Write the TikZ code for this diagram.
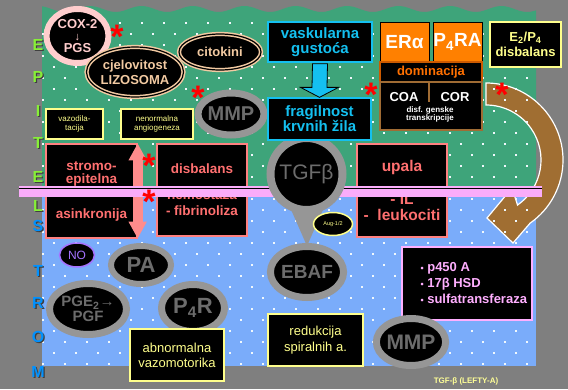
\documentclass[tikz,border=0pt]{standalone}
\usepackage{fontspec}
\setmainfont{Liberation Sans}
\usetikzlibrary{shapes.geometric}
\usetikzlibrary{arrows.meta}
\usetikzlibrary{calc}
\definecolor{slidegray}{RGB}{127,127,127}
\definecolor{epigreen}{RGB}{62,164,122}
\definecolor{stromblue}{RGB}{122,172,250}
\definecolor{dotwhite}{RGB}{240,248,252}
\definecolor{ringgray}{RGB}{150,150,150}
\definecolor{ringtext}{RGB}{108,108,108}
\definecolor{lyscol}{RGB}{242,202,162}
\definecolor{coxpink}{RGB}{255,205,205}
\definecolor{vesselcyan}{RGB}{20,192,240}
\definecolor{receptorange}{RGB}{255,128,0}
\definecolor{domorange}{RGB}{255,112,0}
\definecolor{coabrown}{RGB}{160,108,52}
\definecolor{tailbrown}{RGB}{160,110,50}
\definecolor{paleyellow}{RGB}{255,255,140}
\definecolor{salmonline}{RGB}{255,128,128}
\definecolor{salmontext}{RGB}{255,112,112}
\definecolor{salmonarrow}{RGB}{255,140,140}
\definecolor{bandpink}{RGB}{250,172,250}
\definecolor{enzpink}{RGB}{255,175,255}
\definecolor{nopurple}{RGB}{165,115,255}
\definecolor{limeletter}{RGB}{135,240,55}
\definecolor{blueletter}{RGB}{0,145,255}
\newcommand{\fsz}[1]{\fontsize{#1}{#1}\selectfont}
\tikzset{
  every node/.style={inner sep=0pt, align=center},
  blackbox/.style={draw, fill=black, line width=1.3pt, inner sep=0pt},
  cyanbox/.style={blackbox, draw=vesselcyan, text=vesselcyan, font=\bfseries\fsz{15}},
  yellowbox/.style={blackbox, draw=paleyellow, text=paleyellow, font=\fsz{13}},
  smallbox/.style={blackbox, draw=paleyellow, text=paleyellow, font=\fsz{8}, line width=1.2pt},
  salmonbox/.style={blackbox, draw=salmonline, text=salmontext, font=\bfseries\fsz{13.5}},
  orangebox/.style={blackbox, fill=receptorange, draw=black, text=white, font=\bfseries\fsz{19}, line width=1pt},
  ringoval/.style={ellipse, draw=ringgray, fill=black, text=ringtext, font=\bfseries\fsz{20}, line width=7pt},
  lysoval/.style={ellipse, draw=lyscol, double=black, double distance=1.2pt, line width=1.5pt, fill=black, text=lyscol, font=\bfseries\fsz{13}},
  layerletter/.style={font=\bfseries\fsz{16}},
  ast/.style={text=red, font=\bfseries\fsz{34}, anchor=base},
  dblarrow/.style={salmonarrow, line width=10pt, {Triangle[length=17pt,width=17pt]}-{Triangle[length=17pt,width=17pt]}}
}

\begin{document}
\begin{tikzpicture}[x=1pt, y=-1pt]
\useasboundingbox (0,0) rectangle (568,389);
\fill[slidegray] (0,0) rectangle (568,389);

% epitel and stroma
\fill[epigreen] (42,192) -- (42,14) -- plot[domain=42:536, samples=90, smooth] (\x,{9+3*sin(7*\x)}) -- (536,192) -- cycle;
\fill[stromblue] (42,192) rectangle (536,366);

% brown arrow
\coordinate (bend) at (486,160);
\filldraw[fill=tailbrown, draw=white, line width=1.2pt] ($(bend)+(-90:77)$) arc[start angle=-90, end angle=55, radius=77]
  -- (513,243) -- (487,218) -- (512,188) -- ($(bend)+(55:55)$) arc[start angle=55, end angle=-90, radius=55] -- cycle;

% dots
\begin{scope}
\clip (42,14) rectangle (536,366);
\foreach \r in {0,...,32} {
  \pgfmathsetmacro{\yy}{12+11*\r}
  \pgfmathsetmacro{\xo}{mod(\r,2)==0 ? 43 : 32}
  \foreach \c in {0,...,23}
    \fill[dotwhite] ({\xo+22*\c-1},{\yy-1}) rectangle ++(2,2);
}
\end{scope}

% EPITEL / STROMA letters
\foreach \ch/\yy [count=\i] in {E/45,P/77,I/111,T/143,E/177,L/206} {
  \node[layerletter, text=black!75] (eps\i) at (39.3,{\yy+1.3}) {\ch};
  \node[layerletter, text=limeletter] (ep\i) at (38,\yy) {\ch};
}
\foreach \ch/\yy [count=\i] in {S/226,T/271,R/303,O/337,M/372} {
  \node[layerletter, text=black!75] (sts\i) at (39.3,{\yy+1.3}) {\ch};
  \node[layerletter, text=blueletter] (st\i) at (38,\yy) {\ch};
}

% upper part
\node[ellipse, draw=coxpink, line width=6pt, fill=black, minimum width=62pt, minimum height=54pt, text=coxpink, font=\bfseries\fsz{13}] (cox) at (77.5,36) {COX-2\\[-1pt]{\fsz{11}\mdseries↓}\\[-1pt]PGS};
\node[lysoval, minimum width=82pt, minimum height=50pt] (lyso) at (135,72) {cjelovitost\\[2pt]LIZOSOMA};
\node[lysoval, minimum width=82pt, minimum height=36pt] (cito) at (220,52) {citokini};
\node[ringoval, minimum width=56pt, minimum height=42pt] (mmpa) at (231,114) {MMP};
\node[cyanbox, minimum width=104pt, minimum height=40pt] (vask) at (320,42) {vaskularna\\gustoća};

\node[orangebox, minimum width=49pt, minimum height=40pt] (era) at (404.5,42) {ERα};
\node[orangebox, minimum width=49pt, minimum height=40pt] (pra) at (457.5,42) {P\textsubscript{4}RA};
\node[blackbox, draw=domorange!80!black, minimum width=102pt, minimum height=20pt, text=domorange, font=\bfseries\fsz{13}] (dom) at (431,72) {dominacija};
\node[blackbox, draw=coabrown, minimum width=102pt, minimum height=48pt] (coabox) at (431,106) {};
\draw[coabrown, line width=1.3pt] ($(coabox.north)+(-2,1)$) -- ($(coabox.north)+(-2,21)$);
\node[text=white, font=\bfseries\fsz{13}] (coa) at (404,97) {COA};
\node[text=white, font=\bfseries\fsz{13}] (cor) at (455,97) {COR};
\node[text=white, font=\bfseries\fsz{8}] (disf) at (430,114) {disf. genske\\transkripcije};
\node[blackbox, draw=paleyellow, text=paleyellow, font=\bfseries\fsz{13}, minimum width=71pt, minimum height=45pt] (ep) at (525.5,44.5) {E\textsubscript{2}/P\textsubscript{4}\\[2pt]disbalans};

\node[smallbox, minimum width=57pt, minimum height=30pt] (vazo) at (74.5,124) {vazodila-\\[1pt]tacija};
\node[smallbox, minimum width=72pt, minimum height=30pt] (neno) at (157,124) {nenormalna\\[1pt]angiogeneza};

% middle row
\node[salmonbox, minimum width=91pt, minimum height=94pt] (stromo) at (91.5,191) {stromo-\\epitelna\\[21pt]asinkronija};
\draw[dblarrow] (stromo.north east) -- (stromo.south east);
\node[salmonbox, minimum width=90pt, minimum height=92pt] (hemo) at (202,190) {disbalans\\[12pt]hemostaza\\[3pt]- fibrinoliza};
\node[salmonbox, font=\bfseries\fsz{15.5}, minimum width=90pt, minimum height=93pt] (upala) at (402,190.5) {upala\\[17pt]- IL\\[1pt]-\ \ leukociti};

% border line
\fill[bandpink] (19,185.5) rectangle (542,197);
\draw[black, line width=1.5pt] (19,188.5) -- (542,188.5);

\fill[ringgray] (289,205) -- (325,205) -- (307,246) -- cycle;
\node[circle, draw=ringgray, line width=8pt, fill=black, minimum size=72pt, text=ringtext, font=\fsz{21}] (tgf) at (306.5,174) {TGFβ};
\node[cyanbox, minimum width=103pt, minimum height=42pt] (frag) at (319.5,119) {fragilnost\\krvnih žila};
\filldraw[fill=vesselcyan, draw=black, line width=0.8pt] ($(vask.south)+(-7.5,1)$) -- ($(frag.north)+(-7.5,-10)$) -- ($(frag.north)+(-19,-10)$)
  -- (frag.north) -- ($(frag.north)+(19,-10)$) -- ($(frag.north)+(7.5,-10)$) -- ($(vask.south)+(7.5,1)$) -- cycle;

% stroma
\node[ellipse, draw=paleyellow, line width=1.5pt, fill=black, minimum width=39pt, minimum height=23pt, text=paleyellow, font=\fsz{5.5}] (aug) at (333,224) {Aug-1/2};
\node[ringoval, font=\bfseries\fsz{19}, minimum width=71pt, minimum height=51pt] (ebaf) at (307,272) {EBAF};
\node[ellipse, draw=nopurple, line width=1.5pt, fill=black, minimum width=35pt, minimum height=24pt, text=nopurple, font=\fsz{12}] (no) at (77,255) {NO};
\node[ringoval, font=\bfseries\fsz{22}, line width=6pt, minimum width=60pt, minimum height=38pt] (pa) at (141,265) {PA};
\node[ringoval, font=\bfseries\fsz{15}, minimum width=77pt, minimum height=51pt] (pge) at (88,309) {PGE\textsubscript{2}{\mdseries→}\\PGF};
\node[ringoval, font=\bfseries\fsz{22}, minimum width=63pt, minimum height=47pt] (par) at (193,308) {P\textsubscript{4}R};
\node[yellowbox, minimum width=94pt, minimum height=52pt] (abn) at (177,355) {abnormalna\\[2pt]vazomotorika};
\node[yellowbox, minimum width=95pt, minimum height=52pt] (redu) at (315.5,340) {redukcija\\[3pt]spiralnih a.};
\node[blackbox, draw=enzpink, minimum width=130pt, minimum height=73pt] (enz) at (467,283.5) {};
\node[anchor=west, align=left, text=enzpink, font=\bfseries\fsz{13}] (enzt) at ($(enz.west)+(19,0)$) {{\fsz{9}•} p450 A\\[3pt]{\fsz{9}•} 17β HSD\\[3pt]{\fsz{9}•} sulfatransferaza};
\node[ringoval, font=\bfseries\fsz{21}, minimum width=63pt, minimum height=47pt] (mmpb) at (411,342) {MMP};

% stars
\foreach \ax/\ay [count=\i] in {117/28,198/89,149/157,149/193,371/86,502/86}
  \node[ast] (ast\i) at (\ax,{\ay+20}) {*};

\node[text=paleyellow!90!white, font=\bfseries\fsz{8}] (capt) at (466,381) {TGF-β (LEFTY-A)};
\end{tikzpicture}
\end{document}
